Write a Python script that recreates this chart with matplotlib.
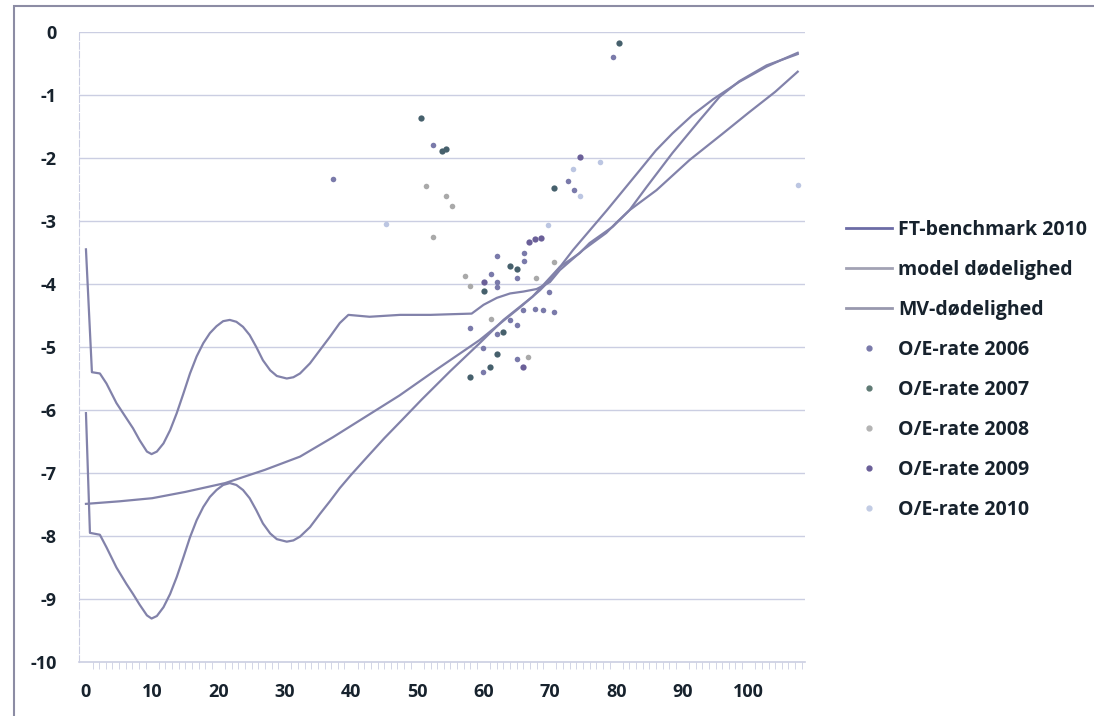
import matplotlib
matplotlib.use("Agg")
import matplotlib.pyplot as plt
from matplotlib.lines import Line2D
from matplotlib.patches import Rectangle

plt.rcParams["font.family"] = ["Open Sans", "DejaVu Sans"]

# smooth benchmark curve
ft_age = [0, 5, 10, 15, 21, 27, 32.3, 37.3, 42.3, 47.3, 53, 59.4, 65.5, 68.5, 70, 73.5,
          78.6, 83.6, 86, 88.5, 91.5, 94.6, 98.6, 102.7, 105, 107.4]
ft_val = [-7.49, -7.45, -7.40, -7.30, -7.16, -6.95, -6.74, -6.43, -6.10, -5.77, -5.35,
          -4.89, -4.37, -4.10, -3.94, -3.46, -2.83, -2.19, -1.88, -1.61, -1.32, -1.07,
          -0.79, -0.55, -0.44, -0.33]

# upper wiggly curve
model_age = [0, 0.9, 2.1, 3.1, 4.6, 6.1, 7.1, 8.1, 9.2, 9.9, 10.7, 11.7, 12.7, 13.7, 14.7,
             15.7, 16.7, 17.7, 18.7, 19.7, 20.7, 21.7, 22.7, 23.7, 24.7, 25.7, 26.7, 27.8,
             28.8, 30.3, 31.3, 32.3, 33.8, 35.3, 36.8, 38.3, 39.6, 42.8, 47.4, 52, 55,
             58.2, 60, 62, 64, 66, 68, 70, 71.5, 75, 78.5, 80, 82, 84.6, 88.5, 92.6, 95.6,
             98.6, 102.7, 107.4]
model_val = [-3.45, -5.40, -5.42, -5.58, -5.89, -6.13, -6.29, -6.48, -6.66, -6.70, -6.66,
             -6.53, -6.32, -6.05, -5.74, -5.42, -5.15, -4.94, -4.78, -4.67, -4.59, -4.57,
             -4.60, -4.68, -4.81, -5.00, -5.21, -5.37, -5.46, -5.50, -5.48, -5.42, -5.26,
             -5.05, -4.84, -4.62, -4.49, -4.52, -4.49, -4.49, -4.48, -4.47, -4.33, -4.22,
             -4.15, -4.12, -4.08, -3.97, -3.78, -3.46, -3.19, -3.03, -2.83, -2.46, -1.92,
             -1.40, -1.03, -0.78, -0.53, -0.35]

# lower wiggly curve
mv_age = [0, 0.6, 2.1, 3.1, 4.6, 6.1, 7.1, 8.1, 9.2, 9.9, 10.7, 11.7, 12.7, 13.7, 14.7,
          15.7, 16.7, 17.7, 18.7, 19.7, 20.7, 21.7, 22.7, 23.7, 24.7, 25.7, 26.7, 27.8,
          28.8, 30.3, 31.3, 32.3, 33.8, 35.3, 36.8, 38.3, 40, 42.4, 45, 47.4, 50.7, 55,
          59.4, 63, 67.4, 71.5, 74.5, 76, 79.5, 82, 86.1, 91.1, 96, 100, 104, 107.4]
mv_val = [-6.05, -7.95, -7.98, -8.18, -8.50, -8.76, -8.92, -9.09, -9.26, -9.31, -9.27,
          -9.13, -8.92, -8.65, -8.34, -8.02, -7.75, -7.54, -7.38, -7.27, -7.19, -7.16,
          -7.19, -7.27, -7.40, -7.59, -7.80, -7.96, -8.05, -8.09, -8.07, -8.01, -7.86,
          -7.65, -7.45, -7.24, -7.03, -6.75, -6.45, -6.19, -5.83, -5.38, -4.94, -4.57,
          -4.20, -3.73, -3.51, -3.35, -3.09, -2.83, -2.51, -2.03, -1.62, -1.28, -0.95,
          -0.63]

oe06_age = [37.3, 52.4, 79.5, 72.7, 73.6, 62, 66.1, 66.1, 61.1, 65, 62, 62, 69.8, 67.7,
            68.9, 70.6, 65.9, 64, 65, 58, 62, 59.9, 65, 59.9]
oe06_val = [-2.33, -1.80, -0.40, -2.36, -2.51, -3.56, -3.51, -3.63, -3.84, -3.91, -3.97,
            -4.05, -4.13, -4.40, -4.41, -4.44, -4.41, -4.57, -4.65, -4.70, -4.79, -5.02,
            -5.19, -5.40]
oe07_age = [50.5, 53.7, 54.3, 80.5, 70.7, 64, 65, 60, 62.9, 62, 60.9, 58]
oe07_val = [-1.37, -1.89, -1.86, -0.18, -2.48, -3.71, -3.76, -4.11, -4.76, -5.11, -5.32, -5.48]
oe08_age = [51.3, 54.3, 55.2, 52.3, 70.7, 57.2, 67.9, 58, 61.1, 66.7]
oe08_val = [-2.44, -2.60, -2.76, -3.25, -3.65, -3.87, -3.91, -4.03, -4.56, -5.16]
oe09_age = [74.6, 68.7, 66.8, 67.7, 60, 65.9]
oe09_val = [-1.98, -3.27, -3.33, -3.29, -3.97, -5.32]
oe10_age = [45.2, 77.6, 73.5, 74.6, 69.7, 107.5]
oe10_val = [-3.04, -2.06, -2.18, -2.60, -3.06, -2.43]

y_ticks = list(range(0, -11, -1))
x_ticks = list(range(0, 101, 10))

fig = plt.figure(figsize=(10.94, 7.16), dpi=100)
ax = fig.add_axes([79 / 1094, 1 - 662 / 716, (805 - 79) / 1094, (662 - 32) / 716])

grid_c = "#cbcee2"
line_c = "#8282aa"
text_c = "#17222d"

for y in y_ticks[:-1]:
    ax.axhline(y, color=grid_c, lw=1.0, zorder=0)

ax.plot(model_age, model_val, color=line_c, lw=1.6, zorder=3)
ax.plot(mv_age, mv_val, color=line_c, lw=1.6, zorder=3)
ax.plot(ft_age, ft_val, color=line_c, lw=1.6, zorder=3)

pts = [
    (oe06_age, oe06_val, "#7a7aaa", 4.0),
    (oe07_age, oe07_val, "#46606c", 4.5),
    (oe08_age, oe08_val, "#a9a9a9", 4.0),
    (oe09_age, oe09_val, "#6a5f98", 4.5),
    (oe10_age, oe10_val, "#bcc6e2", 4.0),
]
for a, v, c, s in pts:
    ax.plot(a, v, "o", color=c, ms=s, mec="none", zorder=4)

ax.set_xlim(-1.05, 108.5)
ax.set_ylim(-10, 0)
ax.set_yticks(y_ticks)
ax.set_yticklabels([str(t) for t in y_ticks])
ax.set_xticks(x_ticks)
ax.set_xticks(range(0, 109), minor=True)
for lab in ax.get_xticklabels() + ax.get_yticklabels():
    lab.set_fontweight("bold")
    lab.set_color(text_c)
    lab.set_fontsize(13)
ax.tick_params(axis="y", length=0, pad=16)
ax.tick_params(axis="x", which="major", length=0, pad=15)
ax.tick_params(axis="x", which="minor", length=5, color=grid_c, direction="out")

for s in ["top", "right"]:
    ax.spines[s].set_visible(False)
ax.spines["left"].set_color(grid_c)
ax.spines["left"].set_linestyle((0, (6, 2)))
ax.spines["bottom"].set_color(grid_c)
ax.spines["bottom"].set_linewidth(1.2)

handles = [
    Line2D([], [], color="#6c6ca6", lw=2),
    Line2D([], [], color="#a2a2b4", lw=2),
    Line2D([], [], color="#9898ae", lw=2),
    Line2D([], [], marker="o", ls="none", color="#7a7aaa", ms=3.5),
    Line2D([], [], marker="o", ls="none", color="#5f7a74", ms=3.5),
    Line2D([], [], marker="o", ls="none", color="#b4b4b4", ms=3.5),
    Line2D([], [], marker="o", ls="none", color="#6a5f98", ms=3.5),
    Line2D([], [], marker="o", ls="none", color="#c2cce4", ms=3.5),
]
labels = ["FT-benchmark 2010", "model dødelighed", "MV-dødelighed", "O/E-rate 2006",
          "O/E-rate 2007", "O/E-rate 2008", "O/E-rate 2009", "O/E-rate 2010"]
leg = fig.legend(handles, labels, loc="upper left", bbox_to_anchor=(838 / 1094, 1 - 212 / 716),
                 frameon=False, handlelength=2.4, handletextpad=0.3, labelspacing=1.03,
                 borderpad=0.4, borderaxespad=0, prop={"weight": "bold", "size": 14})
for t in leg.get_texts():
    t.set_color(text_c)

# outer chart frame
fig.patches.append(Rectangle((14 / 1094, -0.1), 1.2, 1 - 6 / 716 + 0.1, transform=fig.transFigure,
                             fill=False, edgecolor="#8c8ca4", lw=1.5))

fig.savefig("out.png", dpi=100)
